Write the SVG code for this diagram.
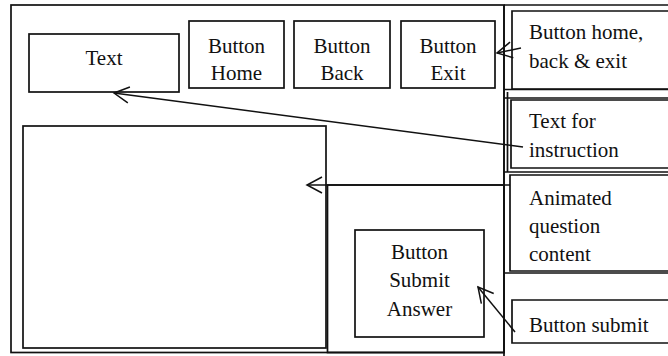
<svg xmlns="http://www.w3.org/2000/svg" width="668" height="356" viewBox="0 0 668 356">
<style>
.b{fill:none;stroke:#111;stroke-width:1.7}
.l{fill:none;stroke:#111;stroke-width:1.7}
.c{fill:none;stroke:#111;stroke-width:1.5}
text{font-family:"Liberation Serif","Times New Roman",serif;font-size:21px;fill:#111}
.m{text-anchor:middle}
</style>
<defs>
<marker id="ah" viewBox="-17 -10 19 20" refX="0" refY="0" markerWidth="19" markerHeight="20" markerUnits="userSpaceOnUse" orient="auto">
<path d="M-15,-8 L0,0 L-15,8" fill="none" stroke="#111" stroke-width="1.5"/>
</marker>
</defs>
<rect width="668" height="356" fill="#fff"/>
<g id="frame">
<rect class="b" x="11" y="5" width="493" height="347.5"/>
<line class="l" x1="504" y1="5" x2="668" y2="5"/>
<line class="l" x1="504" y1="5" x2="504" y2="356"/>
<line class="l" x1="507.5" y1="92" x2="507.5" y2="172"/>
<line class="l" x1="504" y1="89.5" x2="668" y2="89.5"/>
<line class="l" x1="504" y1="98" x2="668" y2="98"/>
<line class="l" x1="504" y1="172" x2="668" y2="172"/>
<line class="l" x1="504" y1="273" x2="668" y2="273"/>
</g>
<g id="text-box">
<rect class="b" x="29" y="34" width="150" height="58"/>
<text class="m" x="104" y="65">Text</text>
</g>
<g id="button-home">
<rect class="b" x="189" y="21" width="95" height="67"/>
<text class="m" x="236.5" y="52.5">Button</text>
<text class="m" x="236.5" y="80">Home</text>
</g>
<g id="button-back">
<rect class="b" x="294" y="21" width="96" height="67"/>
<text class="m" x="342" y="52.5">Button</text>
<text class="m" x="342" y="80">Back</text>
</g>
<g id="button-exit">
<rect class="b" x="401" y="21" width="94" height="67"/>
<text class="m" x="448" y="52.5">Button</text>
<text class="m" x="448" y="80">Exit</text>
</g>
<g id="content-area">
<rect class="b" x="23" y="126" width="303" height="222"/>
</g>
<g id="submit-panel">
<rect class="b" x="327.5" y="185" width="176.5" height="167.5"/>
</g>
<g id="button-submit-answer">
<rect class="b" x="355" y="230" width="129" height="107"/>
<text class="m" x="419.5" y="259">Button</text>
<text class="m" x="419.5" y="287">Submit</text>
<text class="m" x="419.5" y="316">Answer</text>
</g>
<g id="label-buttons">
<path class="b" d="M670,11 H512 V89 H670"/>
<text x="529" y="39">Button home,</text>
<text x="529" y="68">back &amp; exit</text>
</g>
<g id="label-instruction">
<path class="b" d="M670,100 H511 V168 H670"/>
<text x="529" y="128">Text for</text>
<text x="529" y="157">instruction</text>
</g>
<g id="label-animated">
<path class="b" d="M670,175 H510 V271 H670"/>
<text x="529" y="205">Animated</text>
<text x="529" y="233">question</text>
<text x="529" y="261">content</text>
</g>
<g id="label-submit">
<path class="b" d="M670,300 H512 V343 H670"/>
<text x="529" y="332">Button submit</text>
</g>
<g id="connectors">
<line class="c" x1="521" y1="48" x2="497" y2="53" marker-end="url(#ah)"/>
<line class="c" x1="523" y1="147" x2="114" y2="93" marker-end="url(#ah)"/>
<line class="c" x1="510" y1="185" x2="307" y2="185" marker-end="url(#ah)"/>
<line class="c" x1="515" y1="332" x2="478" y2="287" marker-end="url(#ah)"/>
</g>
</svg>
